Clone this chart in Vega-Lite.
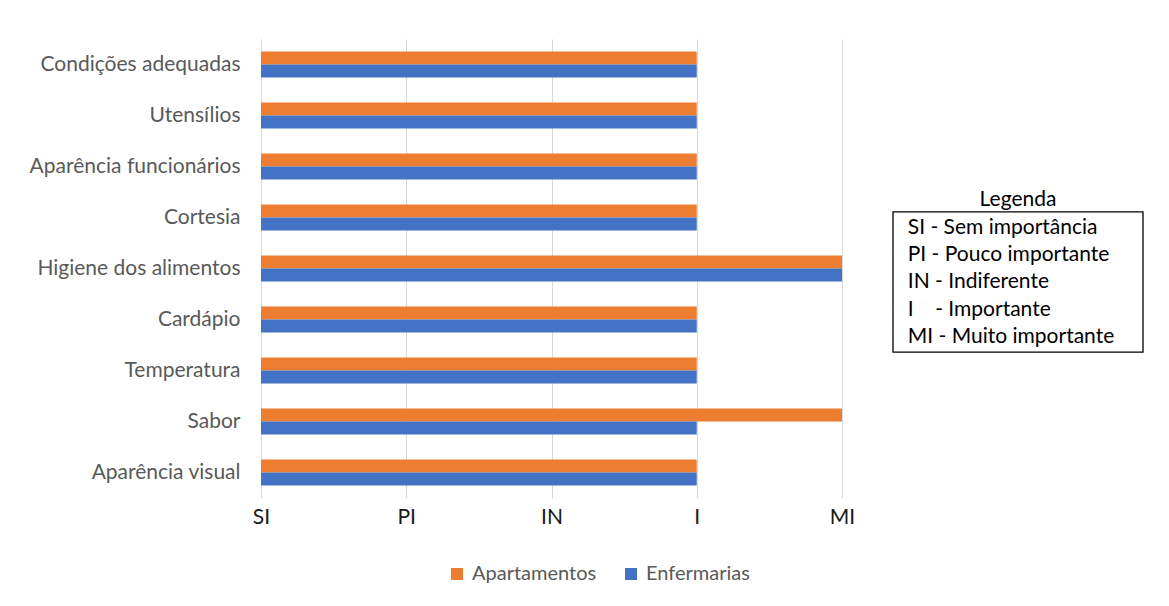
{
  "$schema": "https://vega.github.io/schema/vega-lite/v6.json",
  "background": "white",
  "padding": {"top": 39, "left": 5, "right": 0, "bottom": 0},
  "config": {
    "font": "Lato",
    "view": {"stroke": null},
    "concat": {"spacing": 37}
  },
  "resolve": {"scale": {"color": "independent"}, "legend": {"color": "independent"}},
  "datasets": {
    "notas": [
      {"categoria": "Condições adequadas", "grupo": "Apartamentos", "valor": 3},
      {"categoria": "Condições adequadas", "grupo": "Enfermarias", "valor": 3},
      {"categoria": "Utensílios ", "grupo": "Apartamentos", "valor": 3},
      {"categoria": "Utensílios ", "grupo": "Enfermarias", "valor": 3},
      {"categoria": "Aparência funcionários", "grupo": "Apartamentos", "valor": 3},
      {"categoria": "Aparência funcionários", "grupo": "Enfermarias", "valor": 3},
      {"categoria": "Cortesia", "grupo": "Apartamentos", "valor": 3},
      {"categoria": "Cortesia", "grupo": "Enfermarias", "valor": 3},
      {"categoria": "Higiene dos alimentos", "grupo": "Apartamentos", "valor": 4},
      {"categoria": "Higiene dos alimentos", "grupo": "Enfermarias", "valor": 4},
      {"categoria": "Cardápio ", "grupo": "Apartamentos", "valor": 3},
      {"categoria": "Cardápio ", "grupo": "Enfermarias", "valor": 3},
      {"categoria": "Temperatura", "grupo": "Apartamentos", "valor": 3},
      {"categoria": "Temperatura", "grupo": "Enfermarias", "valor": 3},
      {"categoria": "Sabor", "grupo": "Apartamentos", "valor": 4},
      {"categoria": "Sabor", "grupo": "Enfermarias", "valor": 3},
      {"categoria": "Aparência visual", "grupo": "Apartamentos", "valor": 3},
      {"categoria": "Aparência visual", "grupo": "Enfermarias", "valor": 3}
    ],
    "legenda": [
      {"ordem": 1, "texto": "SI - Sem importância"},
      {"ordem": 2, "texto": "PI - Pouco importante"},
      {"ordem": 3, "texto": "IN - Indiferente"},
      {"ordem": 4, "texto": "\u00a0\u00a0I\u00a0\u00a0\u00a0\u00a0- Importante"},
      {"ordem": 5, "texto": "MI - Muito importante"}
    ]
  },
  "hconcat": [
    {
      "width": 581,
      "height": 459,
      "data": {"name": "notas"},
      "mark": {"type": "bar"},
      "encoding": {
        "y": {
          "field": "categoria",
          "type": "nominal",
          "sort": ["Condições adequadas", "Utensílios ", "Aparência funcionários", "Cortesia", "Higiene dos alimentos", "Cardápio ", "Temperatura", "Sabor", "Aparência visual"],
          "scale": {"paddingInner": 0.49, "paddingOuter": 0.245},
          "axis": {
            "title": null,
            "ticks": false,
            "grid": false,
            "domain": true,
            "domainColor": "#d9d9d9",
            "domainWidth": 1,
            "labelColor": "#595959",
            "labelFontSize": 21,
            "labelPadding": 21,
            "labelLimit": 400,
            "minExtent": 256,
            "maxExtent": 256
          }
        },
        "yOffset": {
          "field": "grupo",
          "type": "nominal",
          "sort": ["Apartamentos", "Enfermarias"],
          "scale": {"paddingInner": 0, "paddingOuter": 0}
        },
        "x": {
          "field": "valor",
          "type": "quantitative",
          "scale": {"domain": [0, 4], "nice": false},
          "axis": {
            "title": null,
            "values": [0, 1, 2, 3, 4],
            "labelExpr": "['SI','PI','IN','I','MI'][datum.value]",
            "grid": true,
            "gridColor": "#d9d9d9",
            "domain": false,
            "ticks": false,
            "labelColor": "#1a1a1a",
            "labelFontSize": 21,
            "labelPadding": 8,
            "labelFlush": false
          }
        },
        "color": {
          "field": "grupo",
          "type": "nominal",
          "scale": {"domain": ["Apartamentos", "Enfermarias"], "range": ["#ED7D31", "#4472C4"]},
          "legend": {
            "title": null,
            "orient": "none",
            "legendX": 186,
            "legendY": 525,
            "direction": "horizontal",
            "symbolType": "square",
            "symbolSize": 144,
            "symbolStrokeWidth": 0,
            "labelFontSize": 20,
            "labelColor": "#595959",
            "labelOffset": 5,
            "columnPadding": 24
          }
        }
      }
    },
    {
      "width": 250,
      "height": 459,
      "layer": [
        {
          "data": {"values": [{}]},
          "mark": {"type": "rect", "fill": null, "stroke": "#000000", "strokeWidth": 1.3},
          "encoding": {
            "x": {"datum": 0, "type": "quantitative", "scale": {"domain": [0, 1], "nice": false}, "axis": null},
            "x2": {"datum": 1},
            "y": {"datum": 0.41, "type": "quantitative", "scale": {"domain": [-5.949, 10.926], "nice": false, "zero": false, "reverse": true}, "axis": null},
            "y2": {"datum": 5.56}
          }
        },
        {
          "data": {"values": [{"titulo": "Legenda"}]},
          "mark": {"type": "text", "align": "center", "baseline": "middle", "fontSize": 21, "color": "#000000"},
          "encoding": {
            "x": {"datum": 0.5, "type": "quantitative"},
            "y": {"datum": -0.03, "type": "quantitative"},
            "text": {"field": "titulo"}
          }
        },
        {
          "data": {"name": "legenda"},
          "mark": {"type": "text", "align": "left", "baseline": "middle", "fontSize": 21, "color": "#000000"},
          "encoding": {
            "x": {"datum": 0.059, "type": "quantitative"},
            "y": {"field": "ordem", "type": "quantitative"},
            "text": {"field": "texto"}
          }
        }
      ]
    }
  ]
}
